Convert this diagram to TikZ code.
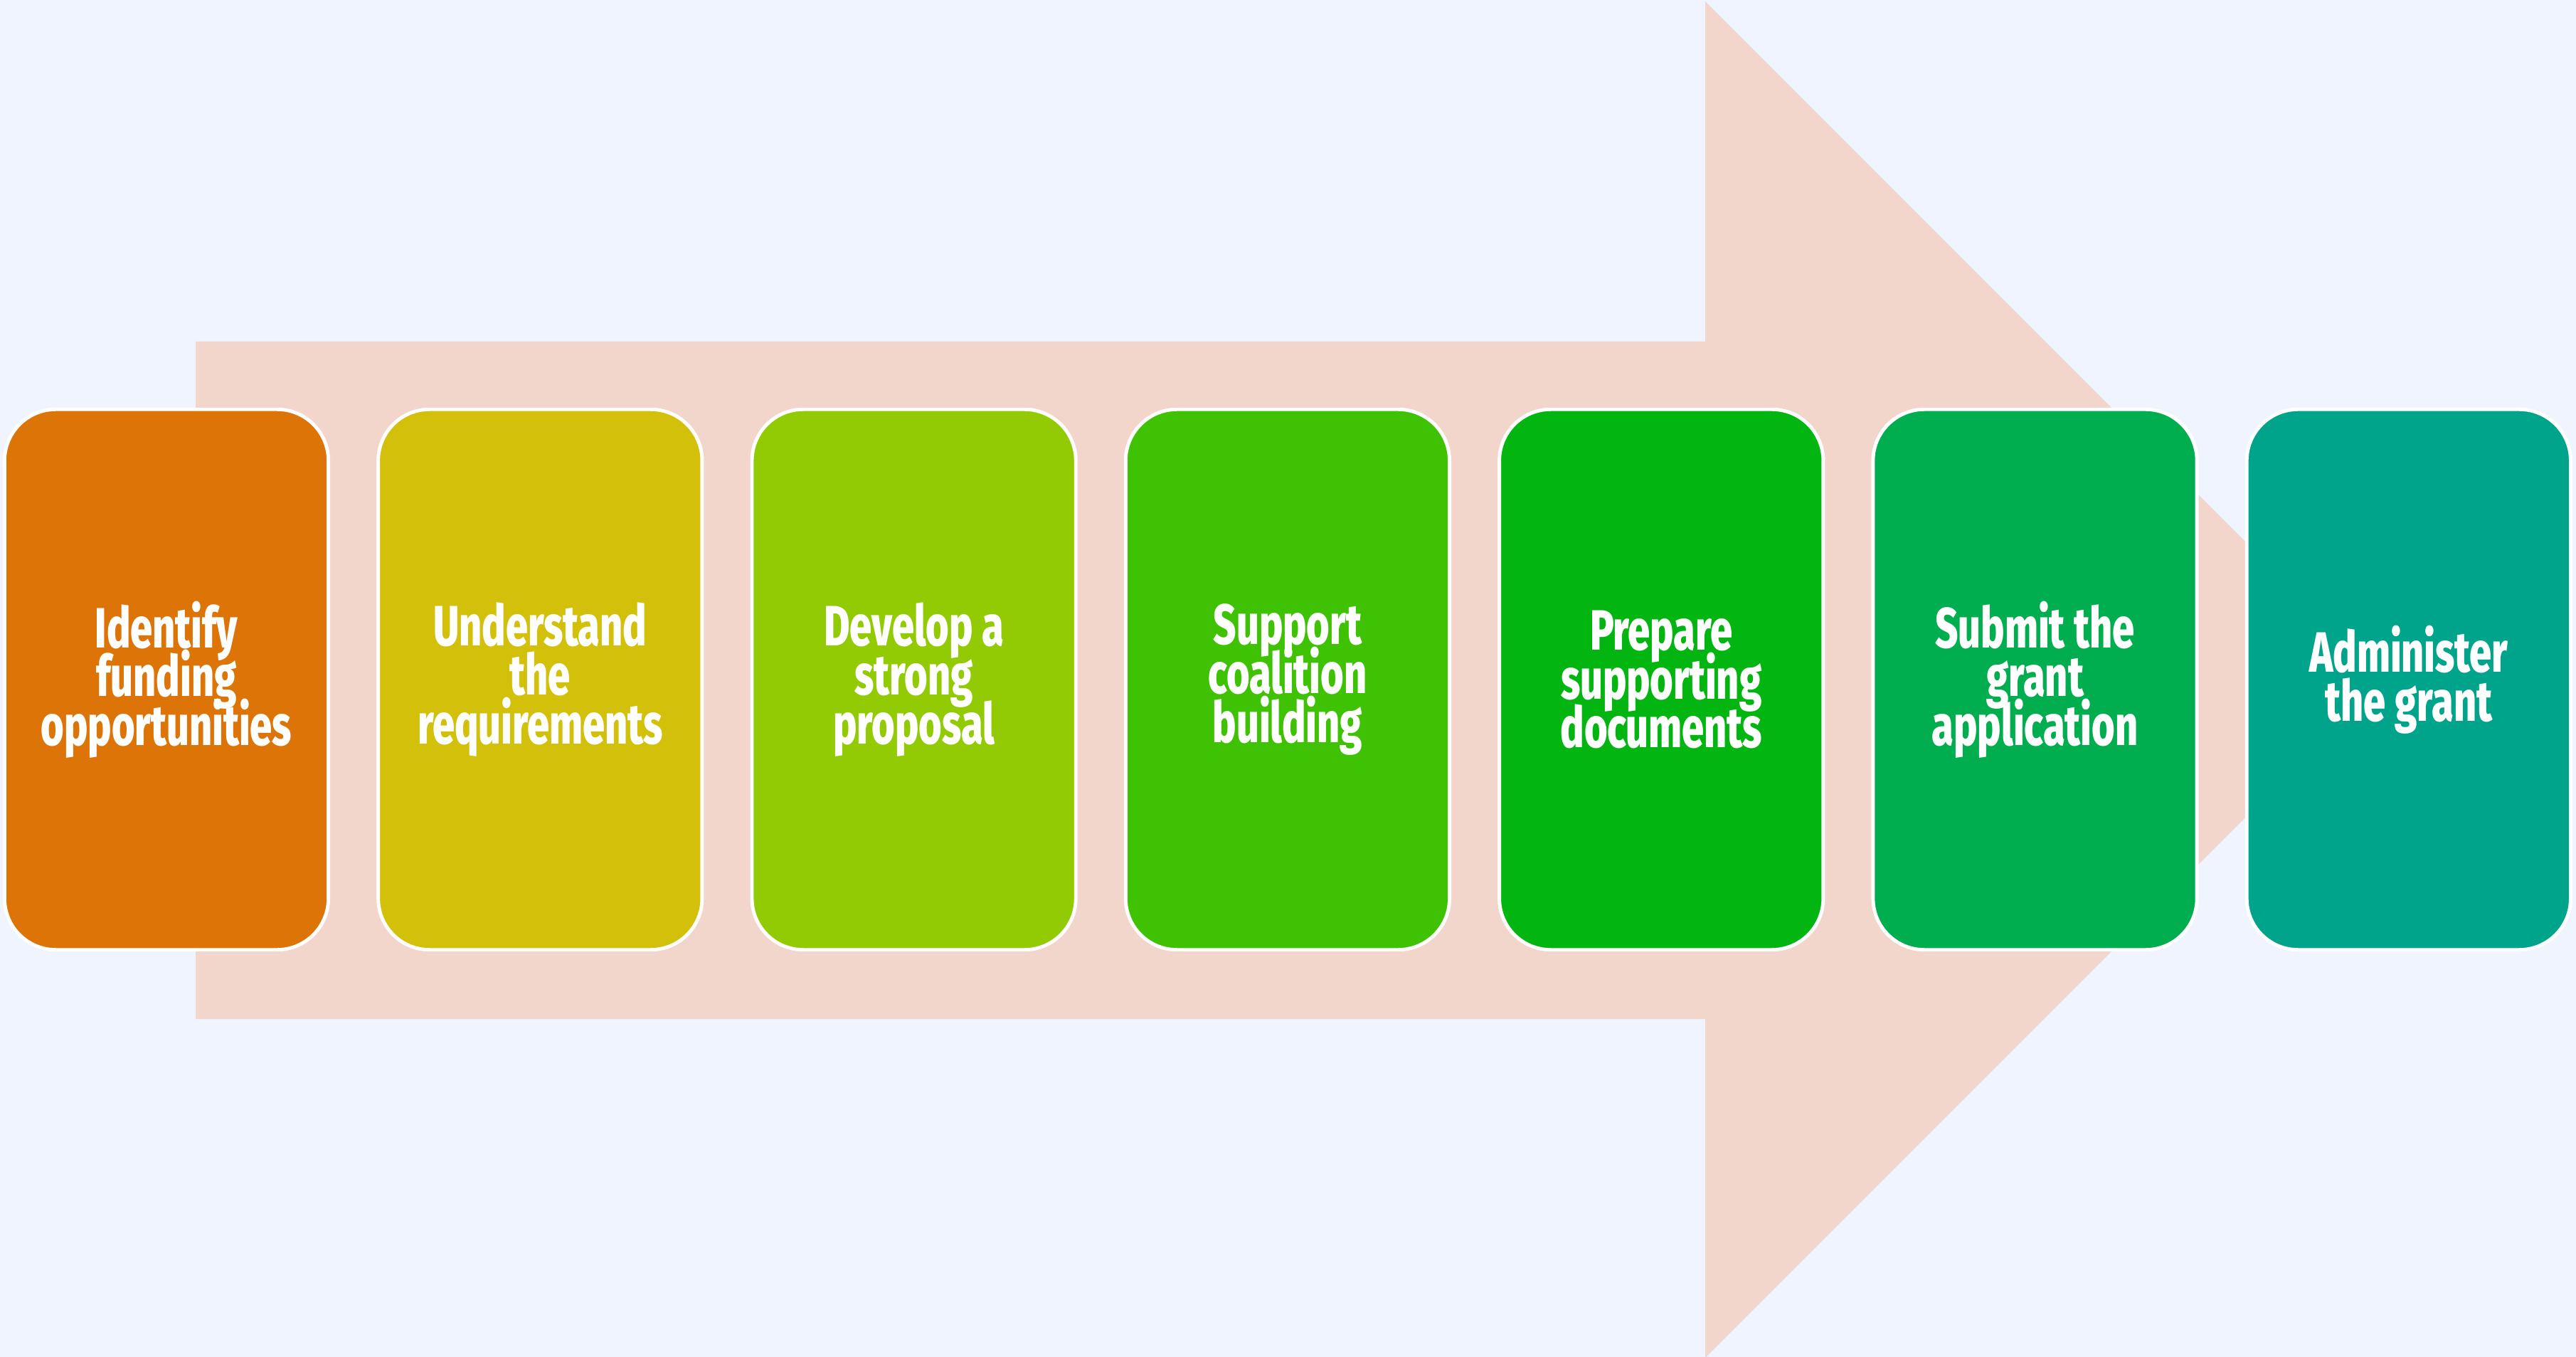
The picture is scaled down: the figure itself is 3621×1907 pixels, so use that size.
\documentclass[tikz,border=0pt]{standalone}
\usepackage{fontspec}
\newfontfamily\stepfont[FakeStretch=0.7, BoldFont={Fira Sans ExtraBold}]{Fira Sans}
\usetikzlibrary{positioning}

\definecolor{bgblue}{RGB}{239,244,254}
\definecolor{arrowpink}{RGB}{242,213,203}
\definecolor{stepA}{RGB}{221,116,7}
\definecolor{stepB}{RGB}{211,192,10}
\definecolor{stepC}{RGB}{146,203,3}
\definecolor{stepD}{RGB}{63,194,4}
\definecolor{stepE}{RGB}{3,181,16}
\definecolor{stepF}{RGB}{0,173,79}
\definecolor{stepG}{RGB}{0,164,138}

\begin{document}
\begin{tikzpicture}[x=0.01cm, y=-0.01cm,
stepnode/.style={rectangle, rounded corners=0.72cm, draw=white, line width=1.4pt, outer sep=0pt, minimum width=4.55cm, minimum height=7.59cm, inner sep=0pt, text=white, align=center, font={\stepfont\bfseries\fontsize{22.7}{19.5}\selectfont\lineskiplimit=-30pt}},
]
%Background
\fill[bgblue] (0,0) rectangle (3621,1907);
\useasboundingbox (0,0) rectangle (3621,1907);

%Big arrow
\fill[arrowpink] (275,480) -- (2397,480) -- (2397,2) -- (3350,955) -- (2397,1908) -- (2397,1432) -- (275,1432) -- cycle;

%Nodes
\node[stepnode, fill=stepA] (identify)                          at (234,955) {Identify\\funding\\opportunities};
\node[stepnode, fill=stepB] (understand) [right=0.7cm of identify]   {Understand\\the\\requirements};
\node[stepnode, fill=stepC] (develop)    [right=0.7cm of understand] {Develop a\\strong\\proposal};
\node[stepnode, fill=stepD] (support)    [right=0.7cm of develop]    {Support\\coalition\\building};
\node[stepnode, fill=stepE] (prepare)    [right=0.7cm of support]    {Prepare\\supporting\\documents};
\node[stepnode, fill=stepF] (submit)     [right=0.7cm of prepare]    {Submit the\\grant\\application};
\node[stepnode, fill=stepG] (administer) [right=0.7cm of submit]     {Administer\\the grant};
\end{tikzpicture}
\end{document}
